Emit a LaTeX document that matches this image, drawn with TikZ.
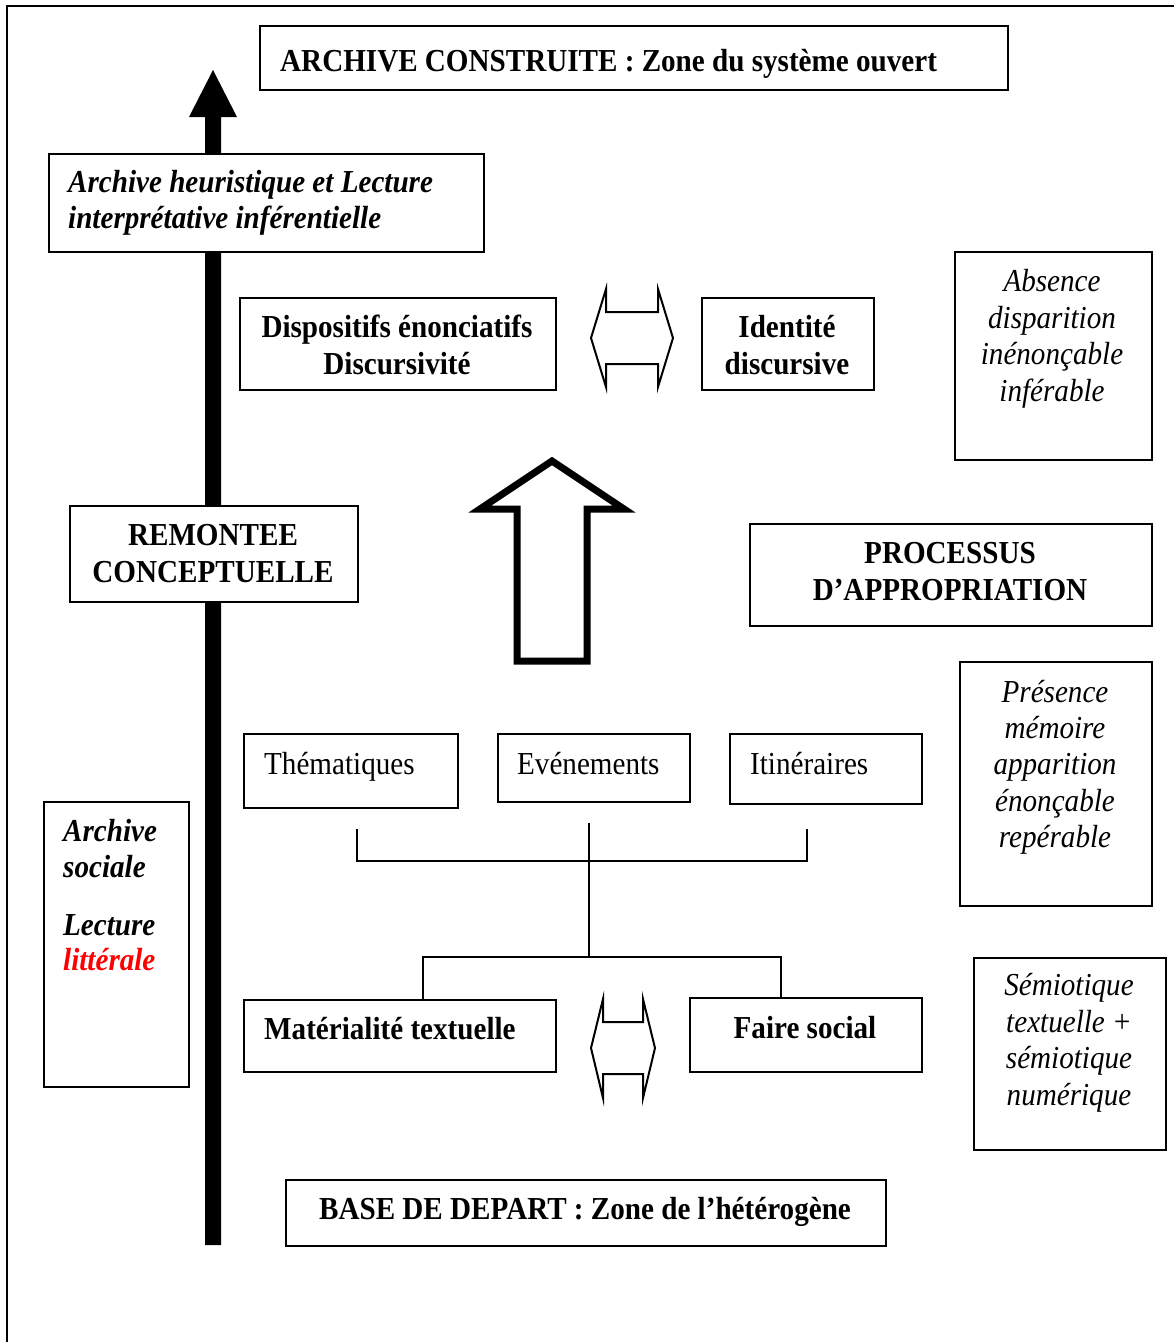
\documentclass[tikz,border=0pt]{standalone}
\usepackage{fontspec}
\setmainfont{Liberation Serif}[FakeStretch=0.91]
\begin{document}
\begin{tikzpicture}[x=1pt,y=-1pt,
  box/.style={draw, line width=2pt, fill=white, inner sep=0pt, anchor=north west},
  conn/.style={line width=2pt},
  t/.style={inner sep=0pt, font=\fontsize{32}{36}\selectfont},
  tb/.style={t, font=\fontsize{32}{36}\selectfont\bfseries},
  ti/.style={t, font=\fontsize{32}{36}\selectfont\itshape},
  tbi/.style={t, font=\fontsize{32}{36}\selectfont\bfseries\itshape},
  harrow/.style={line width=2pt, line join=miter}
]
\useasboundingbox (0,0) rectangle (1174,1342);
% outer frame (left and top)
\draw[line width=2pt] (7,1342) -- (7,6) -- (1174,6);

% thick vertical arrow
\fill (205,1245) -- (205,117) -- (189,117) -- (213,70) -- (237,117) -- (221,117) -- (221,1245) -- cycle;

% boxes
\node[box, minimum width=748pt, minimum height=64pt] (top) at (259,25) {};
\node[box, minimum width=435pt, minimum height=98pt] (heur) at (48,153) {};
\node[box, minimum width=316pt, minimum height=92pt] (disp) at (239,297) {};
\node[box, minimum width=172pt, minimum height=92pt] (ident) at (701,297) {};
\node[box, minimum width=197pt, minimum height=208pt] (abs) at (954,251) {};
\node[box, minimum width=288pt, minimum height=96pt] (remo) at (69,505) {};
\node[box, minimum width=402pt, minimum height=102pt] (proc) at (749,523) {};
\node[box, minimum width=214pt, minimum height=74pt] (them) at (243,733) {};
\node[box, minimum width=192pt, minimum height=68pt] (even) at (497,733) {};
\node[box, minimum width=192pt, minimum height=70pt] (itin) at (729,733) {};
\node[box, minimum width=192pt, minimum height=244pt] (pres) at (959,661) {};
\node[box, minimum width=145pt, minimum height=285pt] (soc) at (43,801) {};
\node[box, minimum width=312pt, minimum height=72pt] (mat) at (243,999) {};
\node[box, minimum width=232pt, minimum height=74pt] (faire) at (689,997) {};
\node[box, minimum width=192pt, minimum height=192pt] (semio) at (973,957) {};
\node[box, minimum width=600pt, minimum height=66pt] (base) at (285,1179) {};

% texts
\node[tb, anchor=base west] (top-t) at (280,71) {ARCHIVE CONSTRUITE : Zone du système ouvert};
\node[tbi, anchor=base west] (heur-t1) at (68,192) {Archive heuristique et Lecture};
\node[tbi, anchor=base west] (heur-t2) at (68,228) {interprétative inférentielle};
\node[tb, anchor=base] (disp-t1) at (397,337) {Dispositifs énonciatifs};
\node[tb, anchor=base] (disp-t2) at (397,374) {Discursivité};
\node[tb, anchor=base] (ident-t1) at (787,337) {Identité};
\node[tb, anchor=base] (ident-t2) at (787,374) {discursive};
\node[ti, anchor=base] (abs-t1) at (1052,291) {Absence};
\node[ti, anchor=base] (abs-t2) at (1052,328) {disparition};
\node[ti, anchor=base] (abs-t3) at (1052,364) {inénonçable};
\node[ti, anchor=base] (abs-t4) at (1052,401) {inférable};
\node[tb, anchor=base] (remo-t1) at (213,545) {REMONTEE};
\node[tb, anchor=base] (remo-t2) at (213,582) {CONCEPTUELLE};
\node[tb, anchor=base] (proc-t1) at (950,563) {PROCESSUS};
\node[tb, anchor=base] (proc-t2) at (950,600) {D’APPROPRIATION};
\node[t, anchor=base west] (them-t) at (264,774) {Thématiques};
\node[t, anchor=base west] (even-t) at (517,774) {Evénements};
\node[t, anchor=base west] (itin-t) at (750,774) {Itinéraires};
\node[ti, anchor=base] (pres-t1) at (1055,702) {Présence};
\node[ti, anchor=base] (pres-t2) at (1055,738) {mémoire};
\node[ti, anchor=base] (pres-t3) at (1055,774) {apparition};
\node[ti, anchor=base] (pres-t4) at (1055,811) {énonçable};
\node[ti, anchor=base] (pres-t5) at (1055,847) {repérable};
\node[tbi, anchor=base west] (soc-t1) at (63,841) {Archive};
\node[tbi, anchor=base west] (soc-t2) at (63,877) {sociale};
\node[tbi, anchor=base west] (soc-t3) at (63,935) {Lecture};
\node[tbi, anchor=base west, text=red] (soc-t4) at (63,970) {littérale};
\node[tb, anchor=base west] (mat-t) at (264,1039) {Matérialité textuelle};
\node[tb, anchor=base] (faire-t) at (805,1038) {Faire social};
\node[ti, anchor=base] (semio-t1) at (1069,995) {Sémiotique};
\node[ti, anchor=base] (semio-t2) at (1069,1032) {textuelle +};
\node[ti, anchor=base] (semio-t3) at (1069,1068) {sémiotique};
\node[ti, anchor=base] (semio-t4) at (1069,1105) {numérique};
\node[tb, anchor=base] (base-t) at (585,1219) {BASE DE DEPART : Zone de l’hétérogène};

% hollow up arrow
\draw[line width=7pt, line join=miter] (552,461) -- (624,509) -- (587,509) -- (587,661) -- (517,661) -- (517,509) -- (480,509) -- cycle;

% double arrows
\draw[harrow] (591,338) -- (606,289) -- (606,312) -- (658,312) -- (658,289) -- (673,338) -- (658,387) -- (658,364) -- (606,364) -- (606,387) -- cycle;
\draw[harrow] (591,1048) -- (603,999) -- (603,1022) -- (643,1022) -- (643,999) -- (655,1048) -- (643,1098) -- (643,1074) -- (603,1074) -- (603,1098) -- cycle;

% tree connectors
\coordinate (tl) at (357,829);
\coordinate (tr) at (807,829);
\coordinate (tm) at (589,823);
\coordinate (hub) at (589,957);
\coordinate (bl) at (423,999);
\coordinate (br) at (781,997);
\draw[conn] (tl) -- (357,861) -- (807,861) -- (tr);
\draw[conn] (tm) -- (hub);
\draw[conn] (bl) |- (hub) -| (br);
\end{tikzpicture}
\end{document}
